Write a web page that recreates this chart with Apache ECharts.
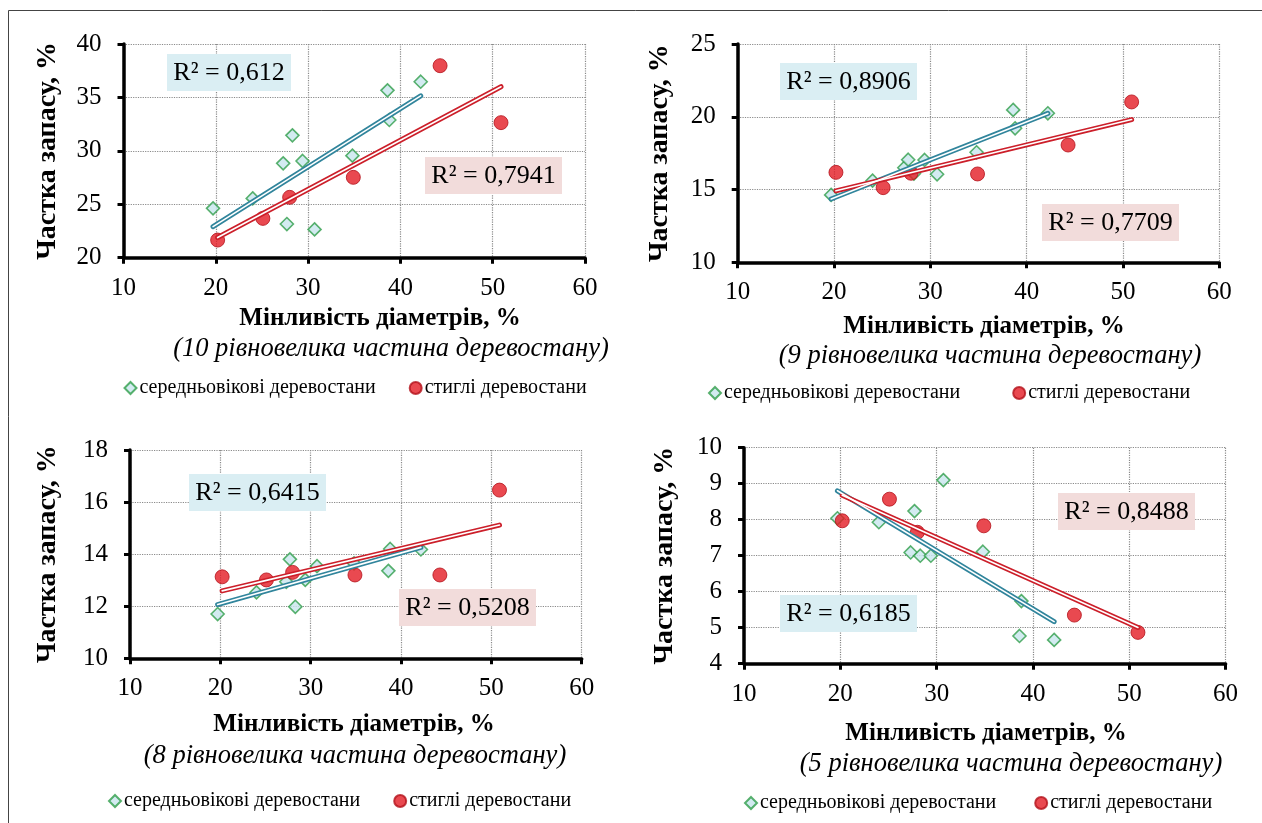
<!DOCTYPE html>
<html>
<head>
<meta charset="utf-8">
<script src="https://cdn.jsdelivr.net/npm/echarts@6/dist/echarts.min.js"></script>
<style>
  html, body { margin: 0; padding: 0; background: #ffffff; }
  #chart { width: 1262px; height: 823px; }
</style>
</head>
<body>
<div id="chart"></div>
<script>
// Variability of stem diameters, % (same stands in every panel)
const midX    = [19.7, 24.0, 27.3, 27.7, 28.3, 29.4, 30.7, 34.8, 38.6, 38.8, 42.2];
const matureX = [20.2, 25.1, 28.0, 34.9, 44.3, 50.9];

// Share of growing stock, % — 10th equal-size part of the stand
const mid10    = [24.62, 25.55, 28.83, 23.15, 31.45, 29.05, 22.65, 29.55, 35.66, 32.89, 36.47];
const mature10 = [21.65, 23.68, 25.65, 27.52, 37.97, 32.64];
// 9th part
const mid9     = [14.63, 15.61, 16.50, 17.05, 16.10, 17.03, 16.05, 17.56, 20.47, 19.21, 20.24];
const mature9  = [16.18, 15.13, 16.12, 16.07, 18.06, 21.02];
// 8th part
const mid8     = [11.70, 12.53, 12.94, 13.80, 11.98, 13.01, 13.54, 13.65, 13.36, 14.20, 14.18];
const mature8  = [13.13, 13.01, 13.30, 13.20, 13.20, 16.46];
// 5th part
const mid5     = [8.04, 7.93, 7.09, 8.24, 7.00, 7.00, 9.10, 7.11, 4.77, 5.74, 4.66];
const mature5  = [7.97, 8.57, 7.65, 7.83, 5.35, 4.87];

// Coefficients of determination of the linear trends
const r2Mid    = ['0,612', '0,8906', '0,6415', '0,6185'];
const r2Mature = ['0,7941', '0,7709', '0,5208', '0,8488'];

const partNo = ['10', '9', '8', '5'];
const xTicks = { min: 10, max: 60, interval: 10 };
const yRanges = [
  { min: 20, max: 40, interval: 5 },
  { min: 10, max: 25, interval: 5 },
  { min: 10, max: 18, interval: 2 },
  { min: 4,  max: 10, interval: 1 }
];

const seriesMidName = 'середньовікові деревостани';
const seriesMatureName = 'стиглі деревостани';
const yTitle = 'Частка запасу, %';
const xTitle = 'Мінливість діаметрів, %';

const midSets = [mid10, mid9, mid8, mid5];
const matureSets = [mature10, mature9, mature8, mature5];

// Layout of the four panels (pixels)
const panels = [
  { grid: { left: 123.5, top: 44, width: 461.5, height: 213.7 }, yGap: 61.5,
    xTitle: [380, 318], sub: [391, 348], legend: [118.5, 373], legendGap: 33,
    boxMid: [167, 54, 124, 37], boxMat: [425, 157, 137, 37] },
  { grid: { left: 737.7, top: 44, width: 481.6, height: 218.3 }, yGap: 63.5,
    xTitle: [984, 326], sub: [990, 355], legend: [703, 378], legendGap: 52,
    boxMid: [780, 63, 137, 37], boxMat: [1042, 204, 137, 37] },
  { grid: { left: 130, top: 450, width: 451.7, height: 208.3 }, yGap: 68,
    xTitle: [354, 724], sub: [355, 755], legend: [103, 786], legendGap: 33,
    boxMid: [189, 474, 137, 37], boxMat: [399, 589, 137, 37] },
  { grid: { left: 744, top: 447.7, width: 481.6, height: 216 }, yGap: 65,
    xTitle: [986, 733], sub: [1011, 763], legend: [739, 788], legendGap: 38,
    boxMid: [780, 595, 137, 37], boxMat: [1058, 493, 137, 37] }
];

const SERIF = '"Liberation Serif", "Times New Roman", serif';
const BLUE = '#31859c';
const RED = '#cc1f2a';
const BOX_BLUE = '#daeef3';
const BOX_PINK = '#f2dcdb';

// Least-squares line over the range of x
function trend(xs, ys) {
  const n = xs.length;
  const mx = xs.reduce((a, b) => a + b, 0) / n;
  const my = ys.reduce((a, b) => a + b, 0) / n;
  let sxy = 0, sxx = 0;
  for (let i = 0; i < n; i++) {
    sxy += (xs[i] - mx) * (ys[i] - my);
    sxx += (xs[i] - mx) * (xs[i] - mx);
  }
  const b = sxy / sxx;
  const a = my - b * mx;
  const x0 = Math.min(...xs), x1 = Math.max(...xs);
  return [[x0, a + b * x0], [x1, a + b * x1]];
}

const grids = [], xAxes = [], yAxes = [], series = [], legends = [], graphics = [];

panels.forEach((p, i) => {
  grids.push(Object.assign({ containLabel: false }, p.grid));

  xAxes.push({
    type: 'value', gridIndex: i,
    min: xTicks.min, max: xTicks.max, interval: xTicks.interval,
    axisLine: { show: true, onZero: false, lineStyle: { color: '#000', width: 3.5 } },
    axisTick: { show: true, inside: false, length: 6, lineStyle: { color: '#000', width: 3 } },
    axisLabel: { color: '#000', fontFamily: SERIF, fontSize: 25, margin: 18 },
    splitLine: { show: true, lineStyle: { color: '#8a8a8a', type: 'dotted', width: 1.2 } }
  });

  yAxes.push({
    type: 'value', gridIndex: i,
    min: yRanges[i].min, max: yRanges[i].max, interval: yRanges[i].interval,
    name: yTitle, nameLocation: 'middle', nameRotate: 90, nameGap: p.yGap,
    nameTextStyle: { color: '#000', fontFamily: SERIF, fontSize: 28, fontWeight: 'bold' },
    axisLine: { show: true, onZero: false, lineStyle: { color: '#000', width: 3.5 } },
    axisTick: { show: true, inside: false, length: 6, lineStyle: { color: '#000', width: 3 } },
    axisLabel: { color: '#000', fontFamily: SERIF, fontSize: 25, margin: 22 },
    splitLine: { show: true, lineStyle: { color: '#8a8a8a', type: 'dotted', width: 1.2 } }
  });

  const midPts = midX.map((x, k) => [x, midSets[i][k]]);
  const matPts = matureX.map((x, k) => [x, matureSets[i][k]]);

  series.push({
    name: seriesMidName, type: 'scatter', xAxisIndex: i, yAxisIndex: i,
    symbol: 'diamond', symbolSize: 13, z: 3,
    itemStyle: { color: '#c8e6ed', borderColor: '#2f9e4a', borderWidth: 1.6 },
    data: midPts
  });
  series.push({
    name: seriesMatureName, type: 'scatter', xAxisIndex: i, yAxisIndex: i,
    symbol: 'circle', symbolSize: 14, z: 4,
    itemStyle: { color: '#e41c24', borderColor: '#b3121a', borderWidth: 1 },
    data: matPts
  });

  // double-stroke trend lines: coloured outer stroke with a white core
  [[midX, midSets[i], BLUE], [matureX, matureSets[i], RED]].forEach(([xs, ys, c]) => {
    const line = trend(xs, ys);
    series.push({
      type: 'line', xAxisIndex: i, yAxisIndex: i, data: line, symbol: 'none',
      silent: true, z: 5, lineStyle: { color: c, width: 5, cap: 'round' }
    });
    series.push({
      type: 'line', xAxisIndex: i, yAxisIndex: i, data: line, symbol: 'none',
      silent: true, z: 6, lineStyle: { color: '#ffffff', width: 1.6, cap: 'round' }
    });
  });

  legends.push({
    left: p.legend[0], top: p.legend[1], orient: 'horizontal',
    itemWidth: 12, itemHeight: 12, itemGap: p.legendGap, selectedMode: false,
    textStyle: { color: '#000', fontFamily: SERIF, fontSize: 20, padding: [0, 0, 0, -2] },
    data: [{ name: seriesMidName, icon: 'diamond' }, { name: seriesMatureName, icon: 'circle' }]
  });

  graphics.push({
    type: 'text', x: p.xTitle[0], y: p.xTitle[1] + 1,
    style: { text: xTitle, fill: '#000', font: 'bold 25px ' + SERIF, textAlign: 'center', textVerticalAlign: 'middle' }
  });
  graphics.push({
    type: 'text', x: p.sub[0], y: p.sub[1] + 1,
    style: { text: '(' + partNo[i] + ' рівновелика частина деревостану)', fill: '#000',
      font: 'italic 26.5px ' + SERIF, textAlign: 'center', textVerticalAlign: 'middle' }
  });

  [[p.boxMid, BOX_BLUE, r2Mid[i]], [p.boxMat, BOX_PINK, r2Mature[i]]].forEach(([b, fill, txt]) => {
    graphics.push({ type: 'rect', z: 10, shape: { x: b[0], y: b[1], width: b[2], height: b[3] }, style: { fill } });
    graphics.push({
      type: 'text', z: 11, x: b[0] + b[2] / 2, y: b[1] + b[3] / 2 + 1,
      style: { text: 'R² = ' + txt, fill: '#000', font: '26px ' + SERIF, textAlign: 'center', textVerticalAlign: 'middle' }
    });
  });
});

// frame around the figure
graphics.push({ type: 'line', shape: { x1: 8.5, y1: 10.5, x2: 1262, y2: 10.5 }, style: { stroke: '#444', lineWidth: 1 } });
graphics.push({ type: 'line', shape: { x1: 8.5, y1: 10.5, x2: 8.5, y2: 823 }, style: { stroke: '#444', lineWidth: 1 } });

const chart = echarts.init(document.getElementById('chart'), null, { renderer: 'canvas' });
chart.setOption({
  backgroundColor: '#ffffff',
  animation: false,
  grid: grids,
  xAxis: xAxes,
  yAxis: yAxes,
  legend: legends,
  series: series,
  graphic: graphics
});
</script>
</body>
</html>
